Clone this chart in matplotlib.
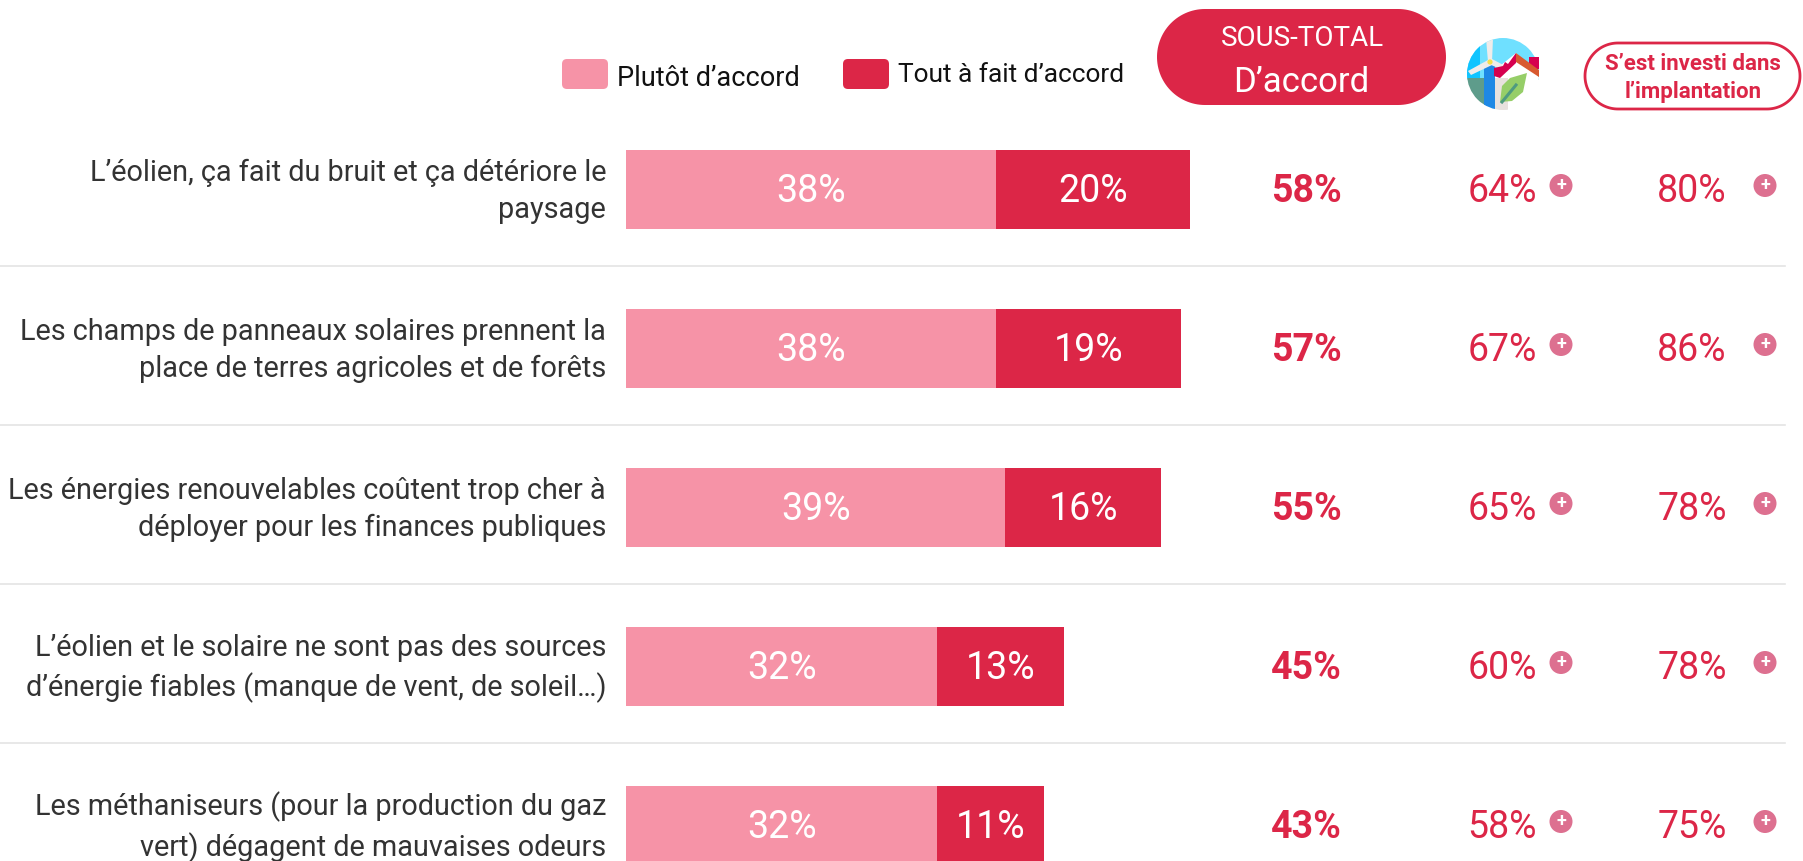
import numpy as np
import matplotlib
matplotlib.use("Agg")
import matplotlib.pyplot as plt
from matplotlib.patches import FancyBboxPatch, Polygon, Rectangle, Circle

W, H = 1803, 861
categories = [
    "L’éolien, ça fait du bruit et ça détériore le\npaysage",
    "Les champs de panneaux solaires prennent la\nplace de terres agricoles et de forêts",
    "Les énergies renouvelables coûtent trop cher à\ndéployer pour les finances publiques",
    "L’éolien et le solaire ne sont pas des sources\nd’énergie fiables (manque de vent, de soleil…)",
    "Les méthaniseurs (pour la production du gaz\nvert) dégagent de mauvaises odeurs",
]
plutot = [38, 38, 39, 32, 32]
tout = [20, 19, 16, 13, 11]
sous_total = [58, 57, 55, 45, 43]
col_icon = [64, 67, 65, 60, 58]
col_investi = [80, 86, 78, 78, 75]

PINK = "#F693A7"
RED = "#DC2647"
PLUS = "#DD7090"
FONT = ["Roboto", "DejaVu Sans"]
plt.rcParams["font.family"] = FONT

fig = plt.figure(figsize=(W / 100, H / 100), dpi=100, facecolor="white")

ov = fig.add_axes([0, 0, 1, 1], zorder=1)
ov.set_xlim(0, W); ov.set_ylim(H, 0); ov.axis("off")


def pill(x0, y0, x1, y1, **kw):
    r = (y1 - y0) / 2
    t = np.linspace(-np.pi / 2, np.pi / 2, 60)
    right = np.c_[x1 - r + r * np.cos(t), (y0 + y1) / 2 + r * np.sin(t)]
    left = np.c_[x0 + r - r * np.cos(t), (y0 + y1) / 2 - r * np.sin(t)]
    ov.add_patch(Polygon(np.r_[right, left], closed=True, **kw))


PX_PER = 9.73
X0 = 626
ROW0, ROWSTEP = 189.5, 159
top_px, bottom_px = 110, H
ax = fig.add_axes([X0 / W, 1 - bottom_px / H, (W - X0) / W, (bottom_px - top_px) / H], zorder=2)
ax.patch.set_alpha(0)
ax.set_xlim(0, (W - X0) / PX_PER)
ax.set_ylim((bottom_px - ROW0) / ROWSTEP, (top_px - ROW0) / ROWSTEP)
ax.axis("off")
rows = list(range(len(categories)))
BAR_H = 79 / ROWSTEP
ax.barh(rows, plutot, height=BAR_H, color=PINK)
ax.barh(rows, tout, left=plutot, height=BAR_H, color=RED)
VALSIZE = 27
for i in rows:
    ax.text(plutot[i] / 2, i + 0.012, f"{plutot[i]}%", color="white", fontsize=VALSIZE, ha="center", va="center")
    ax.text(plutot[i] + tout[i] / 2, i + 0.012, f"{tout[i]}%", color="white", fontsize=VALSIZE, ha="center", va="center")
    ax.text(-2.05, i + 0.012, categories[i], color="#333333", fontsize=20.8, ha="right", va="center",
            linespacing=1.42, clip_on=False)
    y = ROW0 + i * ROWSTEP
    ov.text(1306, y + 2, f"{sous_total[i]}%", color=RED, fontsize=VALSIZE, fontweight="bold", ha="center", va="center")
    ov.text(1502, y + 2, f"{col_icon[i]}%", color=RED, fontsize=VALSIZE, ha="center", va="center")
    ov.text(1692, y + 2, f"{col_investi[i]}%", color=RED, fontsize=VALSIZE, ha="center", va="center")
    for cx in (1561, 1765):
        ov.add_patch(Circle((cx, y - 4), 11.5, color=PLUS, lw=0))
        ov.text(cx, y - 4.5, "+", color="white", fontsize=13, fontweight="bold", ha="center", va="center")
    if i < len(rows) - 1:
        ov.plot([0, 1785], [y + 76.5, y + 76.5], color="#E4E4E4", lw=1.2)

# legend
for x, c, label, ty, fs in [(562, PINK, "Plutôt d’accord", 78, 19.5), (843, RED, "Tout à fait d’accord", 75, 18.9)]:
    ov.add_patch(FancyBboxPatch((x, 59), 46, 30, boxstyle="round,pad=0,rounding_size=5", fc=c, ec="none"))
    ov.text(x + 55, ty, label, color="#111111", fontsize=fs, ha="left", va="center")

# sous-total pill
pill(1157, 9, 1446, 105, fc=RED, ec="none")
ov.text(1302, 39, "SOUS-TOTAL", color="white", fontsize=20, ha="center", va="center")
ov.text(1301, 83, "D’accord", color="white", fontsize=25, ha="center", va="center")

# investi pill
pill(1585, 43, 1800, 109, fc="white", ec=RED, lw=2)
ov.text(1693, 64, "S’est investi dans", color=RED, fontsize=16, fontweight="bold", ha="center", va="center")
ov.text(1693, 92, "l’implantation", color=RED, fontsize=16, fontweight="bold", ha="center", va="center")

# icon: turbine, house and leaf inside a round vignette
disc = Circle((1503, 74), 36, fc="white", ec="none")
ov.add_patch(disc)


def clipped(patch):
    ov.add_patch(patch)
    patch.set_clip_path(disc)


clipped(Rectangle((1467, 38), 72, 42, fc="#6FE0FF", ec="none"))
clipped(Rectangle((1467, 38), 13, 40, fc="#10C4FF", ec="none"))
clipped(Polygon([(1495, 110), (1495, 70), (1516, 53), (1540, 78), (1540, 110)], fc="white", ec="none"))
clipped(Rectangle((1467, 78), 18, 34, fc="#5E9C8B", ec="none"))
clipped(Rectangle((1484, 62), 11, 50, fc="#1E88E5", ec="none"))
clipped(Rectangle((1495, 78), 13, 34, fc="#E8E1DE", ec="none"))
for blade in ([(1486, 38), (1493, 38), (1492, 62), (1488, 62)],
              [(1488, 60), (1492, 65), (1471, 75), (1468, 71)],
              [(1489, 64), (1492, 59), (1509, 68), (1507, 72)]):
    clipped(Polygon(blade, fc="#EFECEA", ec="none"))
ov.add_patch(Circle((1490, 62), 2.6, fc="#F6E04B", ec="none"))
ov.add_patch(Polygon([(1494, 68), (1503, 66), (1505, 62), (1508, 64), (1516, 53), (1516, 63), (1500, 78), (1494, 76)],
                     fc="#D6004F", ec="none"))
ov.add_patch(Rectangle((1529, 57), 10, 12, fc="#D6004F", ec="none"))
ov.add_patch(Polygon([(1516, 53), (1539, 70), (1539, 77), (1516, 62)], fc="#D85A30", ec="none"))
ov.add_patch(Polygon([(1500, 102), (1502, 86), (1510, 78), (1527, 73), (1523, 92), (1512, 101)], fc="#96CE68", ec="none"))
ov.plot([1502, 1516], [102, 85], color="#4E9A80", lw=2.2)

fig.savefig("out.png", dpi=100)
